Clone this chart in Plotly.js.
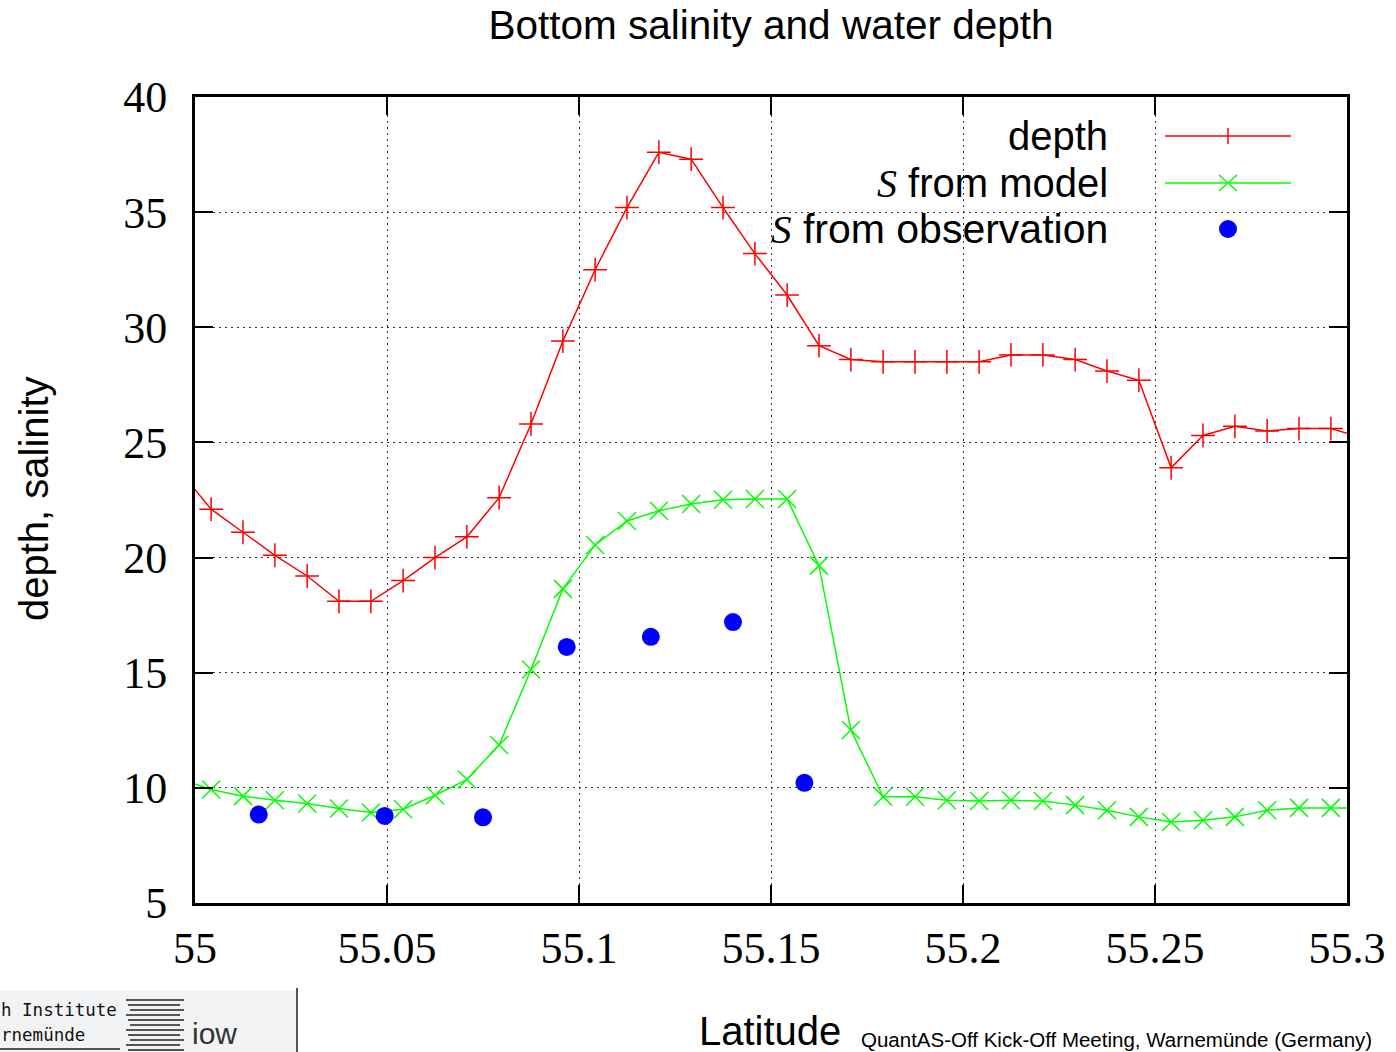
<!DOCTYPE html>
<html>
<head>
<meta charset="utf-8">
<script src="https://cdn.plot.ly/plotly-3.0.1.min.js"></script>
<style>
  html, body { margin: 0; padding: 0; background: #ffffff; }
  #chart { width: 1396px; height: 1052px; }
</style>
</head>
<body>
<div id="chart"></div>
<script>
// ---------------- data ----------------
const latitude = [54.9958, 55.0042, 55.0125, 55.0208, 55.0292, 55.0375, 55.0458, 55.0542,
  55.0625, 55.0708, 55.0792, 55.0875, 55.0958, 55.1042, 55.1125, 55.1208, 55.1292,
  55.1375, 55.1458, 55.1542, 55.1625, 55.1708, 55.1792, 55.1875, 55.1958, 55.2042,
  55.2125, 55.2208, 55.2292, 55.2375, 55.2458, 55.2542, 55.2625, 55.2708, 55.2792,
  55.2875, 55.2958, 55.3042];

const depth = [23.8, 22.1, 21.1, 20.1, 19.2, 18.1, 18.1, 19.0, 20.0, 20.9, 22.6, 25.8,
  29.4, 32.5, 35.2, 37.6, 37.3, 35.2, 33.2, 31.4, 29.2, 28.6, 28.5, 28.5, 28.5, 28.5,
  28.8, 28.8, 28.6, 28.1, 27.7, 23.9, 25.3, 25.7, 25.5, 25.6, 25.6, 25.2];

const salinityModel = [10.4, 9.93, 9.64, 9.46, 9.32, 9.10, 8.93, 9.07, 9.68, 10.36, 11.86,
  15.14, 18.64, 20.55, 21.59, 22.03, 22.33, 22.51, 22.54, 22.54, 19.65, 12.51, 9.61, 9.61,
  9.46, 9.43, 9.46, 9.43, 9.25, 9.03, 8.74, 8.52, 8.59, 8.74, 9.03, 9.13, 9.13, 9.13];

const obsLatitude = [55.0166, 55.0494, 55.0750, 55.0968, 55.1187, 55.1401, 55.1587];
const obsSalinity = [8.84, 8.78, 8.72, 16.12, 16.56, 17.20, 10.22];

const xTickVals = [55, 55.05, 55.1, 55.15, 55.2, 55.25, 55.3];
const xTickText = ['55', '55.05', '55.1', '55.15', '55.2', '55.25', '55.3'];
const yTickVals = [5, 10, 15, 20, 25, 30, 35, 40];

const seriesNames = ['depth', 'S from model', 'S from observation'];

// ---------------- layout helpers ----------------
const W = 1396, H = 1052;
const M = { l: 195, r: 49, t: 97, b: 149 };
const PW = W - M.l - M.r, PH = H - M.t - M.b;
const px = x => (x - M.l) / PW;          // pixel -> paper x
const py = y => 1 - (y - M.t) / PH;      // pixel -> paper y

const RED = '#ff0000', GREEN = '#00ff00', BLUE = '#0000ff';
const SANS = 'Liberation Sans, Arial, sans-serif';
const SERIF = 'Liberation Serif, Times New Roman, serif';
const sItal = "<span style=\"font-family:'Liberation Serif'\"><i>S</i></span>";

const traces = [
  {
    x: latitude, y: depth, name: seriesNames[0], type: 'scatter', mode: 'lines+markers',
    line: { color: RED, width: 1.5 },
    marker: { symbol: 'cross-thin', size: 17, color: RED, line: { color: RED, width: 1.5 } }
  },
  {
    x: latitude, y: salinityModel, name: seriesNames[1], type: 'scatter', mode: 'lines+markers',
    line: { color: GREEN, width: 1.5 },
    marker: { symbol: 'x-thin', size: 18, color: GREEN, line: { color: GREEN, width: 1.5 } }
  },
  {
    x: obsLatitude, y: obsSalinity, name: seriesNames[2], type: 'scatter', mode: 'markers',
    marker: { symbol: 'circle', size: 18, color: BLUE }
  }
];

// legend (gnuplot style: text on the left, sample on the right)
const legY = [136, 183, 229];
const sampleX0 = 1165, sampleX1 = 1291, sampleXc = 1228;
const shapes = [
  // white key area hiding the grid behind the key
  { type: 'rect', xref: 'paper', yref: 'paper', layer: 'between',
    x0: px(1084), x1: px(1328), y0: py(250), y1: py(116),
    fillcolor: '#ffffff', line: { width: 0 } },
  // depth sample
  { type: 'line', xref: 'paper', yref: 'paper', x0: px(sampleX0), x1: px(sampleX1), y0: py(legY[0]), y1: py(legY[0]), line: { color: RED, width: 1.5 } },
  { type: 'line', xref: 'paper', yref: 'paper', x0: px(sampleXc), x1: px(sampleXc), y0: py(legY[0] - 8), y1: py(legY[0] + 8), line: { color: RED, width: 1.5 } },
  // model sample
  { type: 'line', xref: 'paper', yref: 'paper', x0: px(sampleX0), x1: px(sampleX1), y0: py(legY[1]), y1: py(legY[1]), line: { color: GREEN, width: 1.5 } },
  { type: 'line', xref: 'paper', yref: 'paper', x0: px(sampleXc - 9), x1: px(sampleXc + 9), y0: py(legY[1] - 8), y1: py(legY[1] + 8), line: { color: GREEN, width: 1.5 } },
  { type: 'line', xref: 'paper', yref: 'paper', x0: px(sampleXc - 9), x1: px(sampleXc + 9), y0: py(legY[1] + 8), y1: py(legY[1] - 8), line: { color: GREEN, width: 1.5 } },
  // observation sample
  { type: 'circle', xref: 'paper', yref: 'paper', x0: px(sampleXc - 9), x1: px(sampleXc + 9), y0: py(legY[2] + 9), y1: py(legY[2] - 9), fillcolor: BLUE, line: { width: 0 } },
  // logo block (bottom left)
  { type: 'rect', xref: 'paper', yref: 'paper', layer: 'below', x0: px(0), x1: px(297), y0: py(1052), y1: py(990),
    fillcolor: '#f1f3f5', line: { width: 0 } },
  { type: 'line', xref: 'paper', yref: 'paper', x0: px(297), x1: px(297), y0: py(1052), y1: py(988), line: { color: '#555555', width: 2 } },
  { type: 'line', xref: 'paper', yref: 'paper', x0: px(0), x1: px(120), y0: py(1049), y1: py(1049), line: { color: '#222222', width: 1.5 } }
];
// logo stripes
[1000, 1005, 1010, 1015, 1020, 1025, 1030, 1035, 1040, 1045, 1050].forEach((yy, i) => {
  shapes.push({ type: 'line', xref: 'paper', yref: 'paper',
    x0: px(126 + (i % 3) * 2), x1: px(184 - (i % 2) * 4), y0: py(yy), y1: py(yy),
    line: { color: '#222222', width: 1.3 } });
});

const annotations = [
  { text: seriesNames[0], xref: 'paper', yref: 'paper', x: px(1110), y: py(legY[0]), xanchor: 'right', yanchor: 'middle', showarrow: false, font: { family: SANS, size: 40, color: '#000' } },
  { text: sItal + ' from model', xref: 'paper', yref: 'paper', x: px(1110), y: py(legY[1]), xanchor: 'right', yanchor: 'middle', showarrow: false, font: { family: SANS, size: 40, color: '#000' } },
  { text: sItal + ' from observation', xref: 'paper', yref: 'paper', x: px(1110), y: py(legY[2]), xanchor: 'right', yanchor: 'middle', showarrow: false, font: { family: SANS, size: 41, color: '#000' } },
  // axis titles
  { text: 'depth, salinity', xref: 'paper', yref: 'paper', x: px(34), y: py(499), textangle: -90, xanchor: 'center', yanchor: 'middle', showarrow: false, font: { family: SANS, size: 40, color: '#000' } },
  { text: 'Latitude', xref: 'paper', yref: 'paper', x: px(770), y: py(1031), xanchor: 'center', yanchor: 'middle', showarrow: false, font: { family: SANS, size: 40, color: '#000' } },
  // footer
  { text: 'QuantAS-Off Kick-Off Meeting, Warnemünde (Germany)', xref: 'paper', yref: 'paper', x: px(859), y: py(1053), xanchor: 'left', yanchor: 'bottom', showarrow: false, font: { family: SANS, size: 20.5, color: '#000' } },
  { text: 'h Institute', xref: 'paper', yref: 'paper', x: px(-1), y: py(1010), xanchor: 'left', yanchor: 'middle', showarrow: false, font: { family: 'DejaVu Sans Mono, monospace', size: 17.5, color: '#111' } },
  { text: 'rnemünde', xref: 'paper', yref: 'paper', x: px(-1), y: py(1035), xanchor: 'left', yanchor: 'middle', showarrow: false, font: { family: 'DejaVu Sans Mono, monospace', size: 17.5, color: '#111' } },
  { text: 'iow', xref: 'paper', yref: 'paper', x: px(190), y: py(1052), xanchor: 'left', yanchor: 'bottom', showarrow: false, font: { family: SANS, size: 30, color: '#333' } }
];

const axisCommon = {
  showline: true, linecolor: '#000', linewidth: 3, mirror: 'allticks',
  ticks: 'inside', ticklen: 18, tickwidth: 2, tickcolor: '#000',
  showgrid: true, gridcolor: '#333333', gridwidth: 1, griddash: '2px,4px',
  zeroline: false, tickfont: { family: SERIF, size: 44, color: '#000' }
};

const layout = {
  width: W, height: H,
  margin: M,
  paper_bgcolor: '#ffffff', plot_bgcolor: '#ffffff',
  showlegend: false,
  title: { text: 'Bottom salinity and water depth', font: { family: SANS, size: 40.5, color: '#000' },
           x: 0.5, xref: 'paper', xanchor: 'center', y: 1 - 25 / H, yref: 'container', yanchor: 'middle' },
  xaxis: Object.assign({}, axisCommon, {
    range: [55, 55.3], tickmode: 'array', tickvals: xTickVals, ticktext: xTickText,
    ticklabelstandoff: 4
  }),
  yaxis: Object.assign({}, axisCommon, {
    range: [5, 40], tickmode: 'array', tickvals: yTickVals,
    ticklabelstandoff: 16
  }),
  shapes: shapes,
  annotations: annotations
};

Plotly.newPlot('chart', traces, layout, { staticPlot: true, displayModeBar: false });
</script>
</body>
</html>
